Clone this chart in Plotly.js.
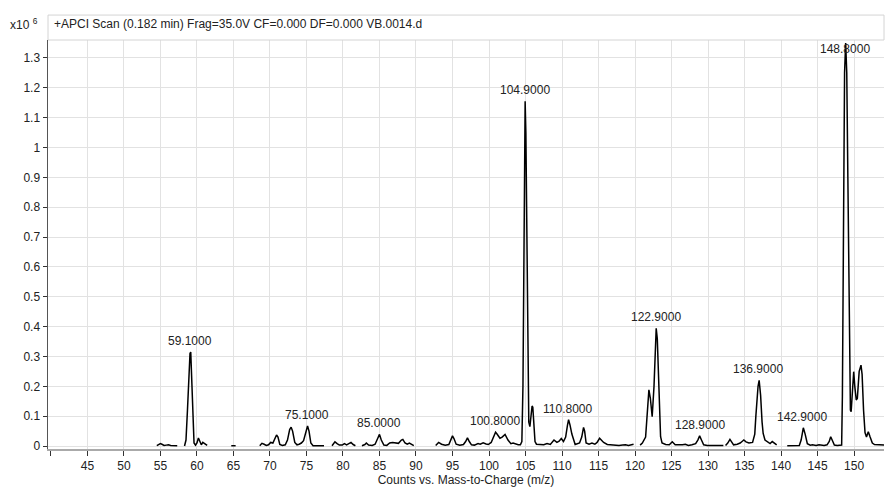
<!DOCTYPE html>
<html>
<head>
<meta charset="utf-8">
<script src="https://cdn.plot.ly/plotly-3.0.1.min.js"></script>
<style>html,body{margin:0;padding:0;background:#fff;}#chart{width:885px;height:487px;}</style>
</head>
<body>
<div id="chart"></div>
<script>
// m/z values (null = break in the profile trace)
const mz = [
  54.5,54.8,55.0,55.2,55.5,55.8,56.1,56.4,56.8,57.3,null,
  58.3,58.5,58.7,58.9,59.05,59.15,59.3,59.45,59.6,59.8,60.0,60.2,60.4,60.6,60.8,61.0,61.2,61.4,null,
  64.7,65.3,null,
  68.6,68.9,69.2,69.5,69.8,70.1,70.4,70.6,70.9,71.1,71.35,71.7,72.1,72.4,72.7,72.9,73.1,73.4,73.7,74.0,74.3,74.6,74.9,75.15,75.35,75.6,75.9,76.5,77.4,null,
  78.5,78.9,79.2,79.5,79.9,80.2,80.5,80.8,81.1,81.4,81.7,null,
  82.6,83.0,83.2,83.5,84.0,84.4,84.75,85.0,85.25,85.6,86.0,86.4,86.8,87.2,87.6,88.0,88.2,88.5,88.8,89.1,89.4,89.7,null,
  92.7,93.1,93.5,94.0,94.5,94.8,95.0,95.2,95.5,96.0,96.5,96.8,97.05,97.3,97.6,98.0,98.5,98.8,99.2,99.6,99.9,100.3,100.6,100.9,101.1,101.5,101.8,102.2,102.6,103.0,103.3,103.7,104.0,104.3,
  104.5,104.65,104.75,104.85,104.95,105.05,105.15,105.3,105.45,105.6,105.75,105.9,106.0,106.15,106.3,106.5,
  107.05,107.5,107.95,108.4,108.9,109.3,109.6,109.9,110.2,110.5,110.75,110.9,111.1,111.35,111.8,112.4,112.7,112.95,113.1,113.3,113.7,114.1,114.5,114.8,115.15,115.7,116.2,116.6,117.2,117.8,118.3,118.7,119.1,119.5,119.8,null,
  120.7,121.0,121.45,121.7,121.9,122.1,122.35,122.6,122.8,122.9,123.05,123.3,123.5,123.7,124.2,124.7,125.1,125.5,126.0,126.5,126.9,127.3,127.8,128.3,128.6,128.85,129.1,129.4,129.9,130.5,131.0,131.5,132.1,null,
  132.4,132.7,133.0,133.3,133.5,134.0,134.4,134.7,134.9,135.2,135.6,136.1,136.4,136.55,136.7,136.85,137.0,137.2,137.4,137.55,137.8,138.1,138.5,138.8,139.1,139.4,null,
  140.85,141.5,142.0,142.5,142.75,143.05,143.3,143.6,144.0,144.3,144.8,145.2,145.9,146.3,146.6,146.8,147.0,147.3,147.7,148.0,148.3,
  148.4,148.5,148.6,148.7,148.85,149.0,149.15,149.3,149.5,149.6,149.8,149.95,150.1,150.3,150.45,150.7,150.95,151.1,151.3,151.5,151.7,151.95,152.2,152.5,152.8,153.2,153.7,154.3
];
// Counts (x10^6), aligned with mz
const counts = [
  0.001,0.004,0.008,0.006,0.002,0.003,0.004,0.002,0.001,0.001,null,
  0.0,0.02,0.12,0.26,0.31,0.315,0.22,0.08,0.01,0.003,0.01,0.027,0.012,0.004,0.012,0.009,0.004,0.002,null,
  0.001,0.001,null,
  0.001,0.009,0.006,0.002,0.004,0.012,0.01,0.02,0.037,0.03,0.005,0.002,0.004,0.02,0.055,0.063,0.05,0.012,0.004,0.006,0.01,0.018,0.045,0.067,0.05,0.01,0.001,0.001,0.001,null,
  0.001,0.014,0.008,0.003,0.003,0.008,0.004,0.008,0.012,0.005,0.001,null,
  0.001,0.005,0.01,0.003,0.002,0.006,0.025,0.039,0.02,0.003,0.002,0.01,0.012,0.01,0.009,0.02,0.022,0.01,0.006,0.01,0.004,0.001,null,
  0.002,0.012,0.006,0.003,0.005,0.02,0.034,0.025,0.006,0.003,0.005,0.015,0.027,0.015,0.004,0.003,0.008,0.006,0.011,0.007,0.005,0.012,0.03,0.046,0.04,0.026,0.03,0.039,0.02,0.008,0.01,0.006,0.004,0.004,
  0.015,0.2,0.6,1.0,1.155,1.05,0.75,0.3,0.08,0.065,0.1,0.134,0.13,0.07,0.015,0.006,
  0.006,0.004,0.008,0.005,0.02,0.012,0.016,0.025,0.015,0.03,0.07,0.088,0.07,0.04,0.005,0.01,0.03,0.062,0.05,0.01,0.006,0.01,0.006,0.012,0.026,0.012,0.005,0.004,0.002,0.002,0.003,0.004,0.002,0.003,0.006,null,
  0.003,0.01,0.03,0.12,0.188,0.16,0.098,0.2,0.35,0.394,0.36,0.15,0.031,0.01,0.005,0.004,0.014,0.004,0.003,0.004,0.006,0.002,0.004,0.008,0.02,0.034,0.02,0.004,0.002,0.002,0.002,0.002,0.002,null,
  0.002,0.01,0.022,0.012,0.004,0.006,0.01,0.016,0.02,0.014,0.01,0.012,0.04,0.1,0.16,0.2,0.22,0.17,0.08,0.042,0.02,0.015,0.008,0.015,0.008,0.004,null,
  0.001,0.001,0.001,0.002,0.02,0.061,0.04,0.008,0.003,0.004,0.002,0.004,0.002,0.004,0.015,0.031,0.02,0.003,0.002,0.002,0.003,
  0.165,0.6,1.015,1.25,1.35,1.25,0.9,0.45,0.12,0.115,0.2,0.249,0.2,0.154,0.16,0.25,0.271,0.24,0.12,0.045,0.03,0.048,0.03,0.01,0.005,0.004,0.003,0.003
];
// Peak labels
const peakLabels = ["59.1000","75.1000","85.0000","100.8000","104.9000","110.8000","122.9000","128.9000","136.9000","142.9000","148.8000"];
const peakX = [59.1,75.1,85.0,100.8,104.9,110.8,122.9,128.9,136.9,142.9,148.8];
const peakY = [0.315,0.067,0.039,0.046,1.155,0.088,0.394,0.034,0.22,0.061,1.32];
const xTicks = [45,50,55,60,65,70,75,80,85,90,95,100,105,110,115,120,125,130,135,140,145,150];

const font = {family: "Liberation Sans, Arial, sans-serif", size: 12, color: "#222"};

const trace = {
  x: mz, y: counts, type: "scatter", mode: "lines",
  line: {color: "#000", width: 1.5}, connectgaps: false, hoverinfo: "skip"
};

const annotations = peakLabels.map((t, i) => ({
  x: peakX[i], y: peakY[i], xref: "x", yref: "y", text: t, showarrow: false,
  yanchor: "bottom", xanchor: "center", yshift: i === 10 ? -6 : 2, font: font
}));
annotations.push({
  xref: "paper", yref: "paper", x: -0.048, y: 1.039, xanchor: "left", yanchor: "middle",
  text: "x10 <sup>6</sup>", showarrow: false, font: font
});
annotations.push({
  xref: "paper", yref: "paper", x: 0.005, y: 1.039, xanchor: "left", yanchor: "middle",
  text: "+APCI Scan (0.182 min) Frag=35.0V CF=0.000 DF=0.000 VB.0014.d", showarrow: false, font: font
});

const layout = {
  width: 885, height: 487,
  margin: {l: 48, r: 1, t: 40, b: 38, pad: 0},
  paper_bgcolor: "#fff", plot_bgcolor: "#fff",
  font: font, showlegend: false,
  xaxis: {
    range: [39.6, 154.1], tickmode: "array", tickvals: xTicks,
    ticks: "outside", ticklen: 5, tickcolor: "#333", showgrid: true, gridcolor: "#e2e2e2",
    minor: {tick0: 40, dtick: 5, ticks: "outside", ticklen: 5, tickcolor: "#333", showgrid: false},
    showline: true, linecolor: "#aaa", linewidth: 2, zeroline: false,
    title: {text: "Counts vs. Mass-to-Charge (m/z)", font: font, standoff: 2},
    tickfont: font
  },
  yaxis: {
    range: [-0.01, 1.36], dtick: 0.1, tick0: 0,
    ticks: "outside", ticklen: 4, tickcolor: "#333", showgrid: true, gridcolor: "#e2e2e2",
    showline: true, linecolor: "#555", linewidth: 1.5, zeroline: false,
    tickfont: font
  },
  shapes: [{
    type: "rect", xref: "paper", yref: "paper", x0: 0, x1: 1, y0: 1.0, y1: 1.061,
    line: {color: "#d4d4d4", width: 1}, fillcolor: "rgba(0,0,0,0)"
  }],
  annotations: annotations
};

Plotly.newPlot("chart", [trace], layout, {displayModeBar: false, staticPlot: true});
</script>
</body>
</html>
